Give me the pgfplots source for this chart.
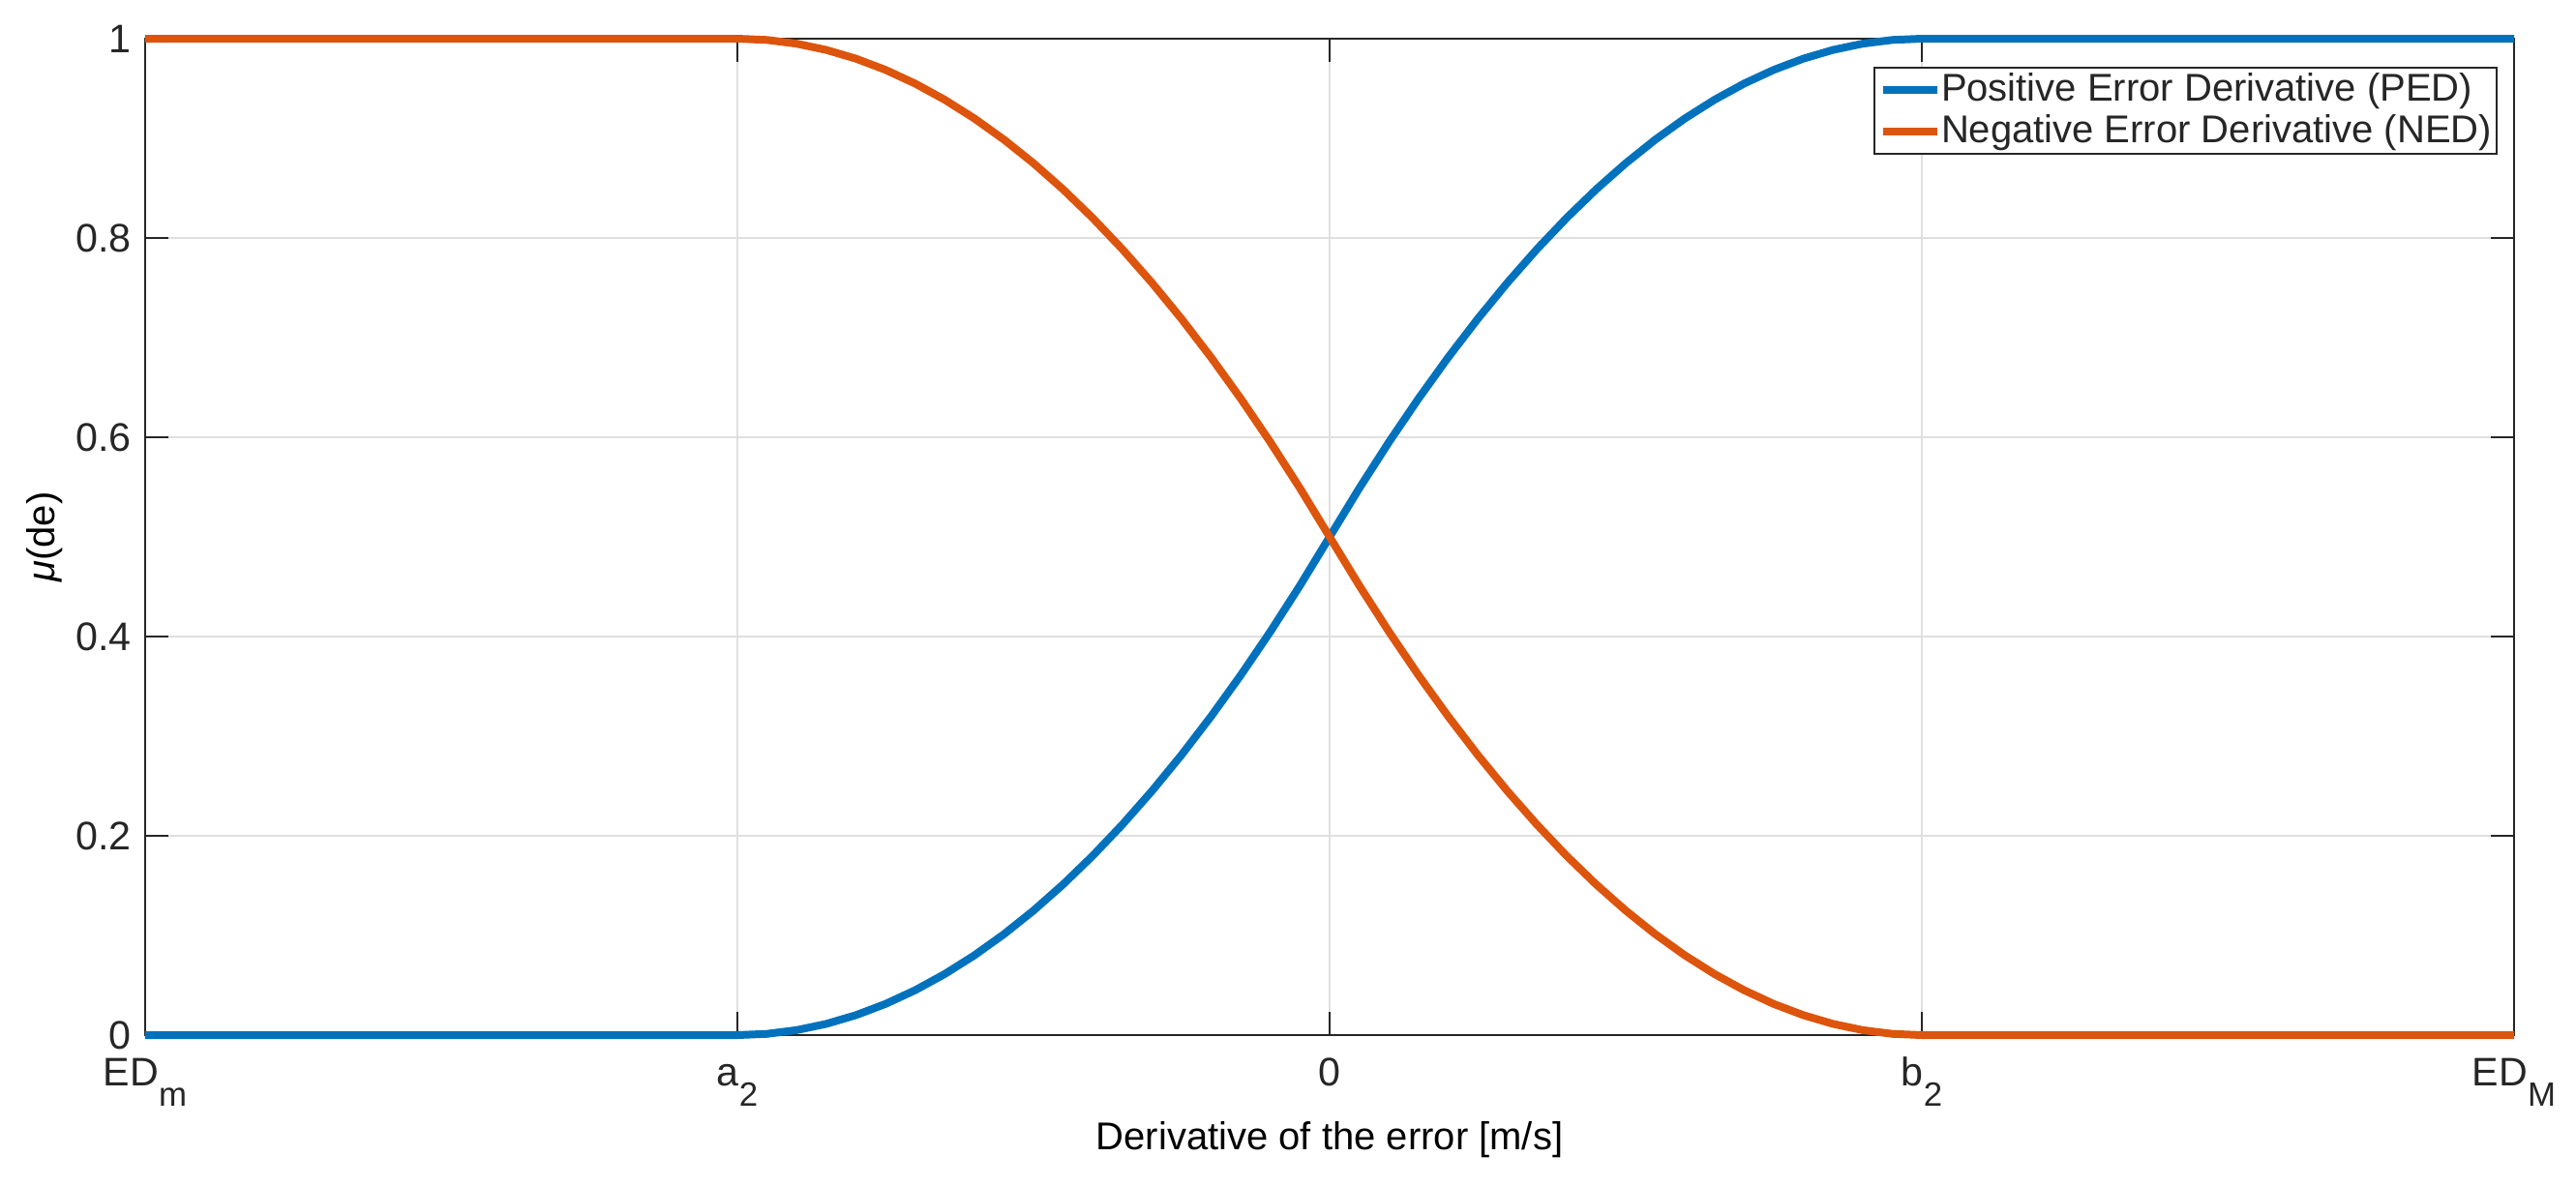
\documentclass[border=0pt]{standalone}
\usepackage{pgfplots}
\pgfplotsset{compat=1.18}
\usepackage{fontspec}
\setmainfont{Liberation Sans}
\definecolor{mblue}{RGB}{0,114,189}
\definecolor{morange}{RGB}{221,84,12}
\definecolor{txt}{RGB}{38,38,38}
\definecolor{gridc}{RGB}{223,223,223}
\newcommand\sub[1]{\raisebox{-5.25pt}{\fontsize{8.7}{8.7}\selectfont #1}}

\begin{document}
\begin{tikzpicture}
\begin{axis}[
 scale only axis, width=612pt, height=257.5pt,
 xmin=-2, xmax=2, ymin=0, ymax=1,
 clip=false,
 axis line style={txt, line width=0.5pt},
 tick style={txt, line width=0.5pt},
 major tick length=6pt,
 tick align=inside,
 xtick={-2,-1,0,1,2},
 xticklabels={ED\sub{m}, a\sub{2}, 0, b\sub{2}, ED\sub{M}},
 ytick={0,0.2,0.4,0.6,0.8,1},
 yticklabels={0,0.2,0.4,0.6,0.8,1},
 grid=major, major grid style={gridc, line width=0.5pt},
 ticklabel style={font=\fontsize{10.3}{12}\selectfont, text=txt},
 xticklabel style={anchor=base, yshift=-13pt},
 yticklabel style={anchor=east},
 xlabel={Derivative of the error [m/s]},
 ylabel={\textit{μ}(de)},
 label style={font=\fontsize{11.8}{14}\selectfont, text=txt},
 every axis x label/.style={at={(axis description cs:0.5,-0.1146)}, anchor=base},
 every axis y label/.style={at={(axis description cs:-0.038,0.5)}, rotate=90, anchor=base},
 legend style={at={(axis description cs:0.99306,0.97184)}, anchor=north east, draw=txt, line width=0.5pt, fill=white, font=\fontsize{10}{12}\selectfont, text=txt, inner xsep=1.25pt, inner ysep=1.4pt, row sep=2pt, nodes={inner sep=0pt}, /tikz/every even column/.append style={column sep=1.5pt}},
 legend cell align=left,
 legend image code/.code={\draw[#1, line width=2pt] (0pt,0pt) -- (14pt,0pt);},
]
\addplot[mblue, line width=2pt, line join=round] coordinates {
(-2,0) (-1,0) (-0.95,0.00125) (-0.9,0.005) (-0.85,0.01125) (-0.8,0.02) (-0.75,0.03125) (-0.7,0.045) (-0.65,0.06125) (-0.6,0.08) (-0.55,0.10125) (-0.5,0.125) (-0.45,0.15125) (-0.4,0.18) (-0.35,0.21125) (-0.3,0.245) (-0.25,0.28125) (-0.2,0.32) (-0.15,0.36125) (-0.1,0.405) (-0.05,0.45125) (0,0.5) (0.05,0.54875) (0.1,0.595) (0.15,0.63875) (0.2,0.68) (0.25,0.71875) (0.3,0.755) (0.35,0.78875) (0.4,0.82) (0.45,0.84875) (0.5,0.875) (0.55,0.89875) (0.6,0.92) (0.65,0.93875) (0.7,0.955) (0.75,0.96875) (0.8,0.98) (0.85,0.98875) (0.9,0.995) (0.95,0.99875) (1,1) (2,1)
};
\addlegendentry{Positive Error Derivative (PED)}
\addplot[morange, line width=2pt, line join=round] coordinates {
(-2,1) (-1,1) (-0.95,0.99875) (-0.9,0.995) (-0.85,0.98875) (-0.8,0.98) (-0.75,0.96875) (-0.7,0.955) (-0.65,0.93875) (-0.6,0.92) (-0.55,0.89875) (-0.5,0.875) (-0.45,0.84875) (-0.4,0.82) (-0.35,0.78875) (-0.3,0.755) (-0.25,0.71875) (-0.2,0.68) (-0.15,0.63875) (-0.1,0.595) (-0.05,0.54875) (0,0.5) (0.05,0.45125) (0.1,0.405) (0.15,0.36125) (0.2,0.32) (0.25,0.28125) (0.3,0.245) (0.35,0.21125) (0.4,0.18) (0.45,0.15125) (0.5,0.125) (0.55,0.10125) (0.6,0.08) (0.65,0.06125) (0.7,0.045) (0.75,0.03125) (0.8,0.02) (0.85,0.01125) (0.9,0.005) (0.95,0.00125) (1,0) (2,0)
};
\addlegendentry{Negative Error Derivative (NED)}
\coordinate (sw) at (rel axis cs:0,0);
\end{axis}
\pgfresetboundingbox
\path[use as bounding box] (sw) ++(-37.5pt,-38.75pt) rectangle ++(665.5pt,306.25pt);
\end{tikzpicture}
\end{document}
